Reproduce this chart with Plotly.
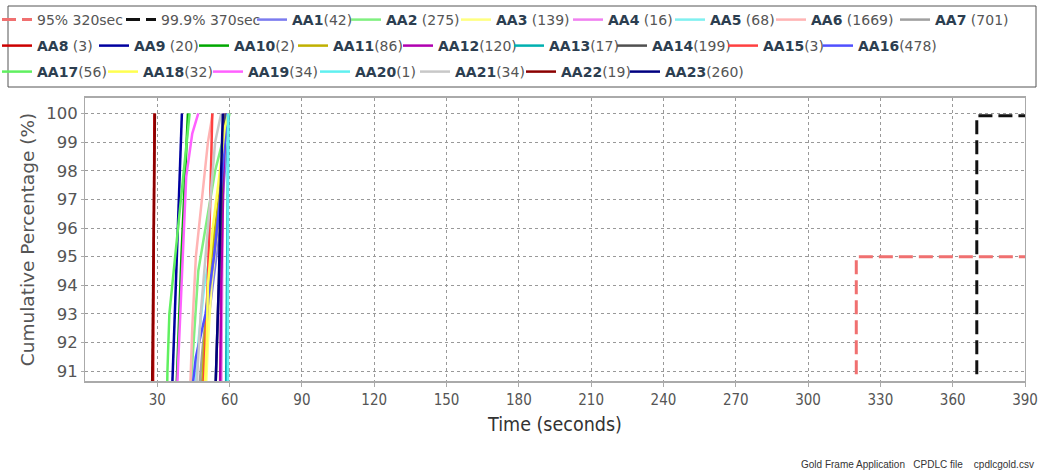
import plotly.graph_objects as go

# ---- data ----
names = ["AA1", "AA2", "AA3", "AA4", "AA5", "AA6", "AA7", "AA8", "AA9", "AA10", "AA11", "AA12",
         "AA13", "AA14", "AA15", "AA16", "AA17", "AA18", "AA19", "AA20", "AA21", "AA22", "AA23"]
counts = [42, 275, 139, 16, 68, 1669, 701, 3, 20, 2, 86, 120, 17, 199, 3, 478, 56, 32, 34, 1, 34, 19, 260]
colors = ["#7b7bef", "#80f080", "#ffff80", "#f080f0", "#80f0f0", "#ffb4b4", "#a0a0a0", "#cc0000",
          "#0000a0", "#00a800", "#c0b000", "#b000b0", "#00b0b0", "#505050", "#ff4040", "#5050ff",
          "#60f060", "#ffff50", "#ff60ff", "#60f0f0", "#c8c8c8", "#8b0000", "#000080"]

# time (s) at cumulative percentages
times = [
    [48, 50, 53, 56, 58.5, 59.5],
    [43.5, 45, 47, 50, 54, 57, 60],
    [50, 51, 52.5, 55, 58, 59.5],
    [56.5, 57, 57.5],
    [45.5, 47, 49.5, 54, 57.5, 59],
    [43.5, 44.5, 46, 48.5, 51, 53],
    [47, 49, 52, 55, 57.5, 58.5],
    [28.2, 28.8],
    [36, 38, 40.2],
    [37.8, 40, 42.7],
    [48.5, 49.5, 51, 54, 57, 59],
    [56, 56.5, 57.5, 58.5],
    [58.5, 59, 59.5],
    [54, 55.5, 57, 58.3],
    [49, 50.5, 52, 52.8],
    [44, 46, 50, 53.5, 56, 58, 59],
    [34, 34.2, 35, 38, 41, 43.4],
    [49.5, 50.5, 51, 53, 56, 58, 59.5],
    [38, 40, 42, 44.5, 47],
    [59.3, 59.3],
    [46, 48, 51, 54, 56.5],
    [27.8, 28.3, 29],
    [54, 55.5, 56.5, 57.2],
]
percents = [
    [90, 92, 94, 96, 98.5, 100],
    [90, 92, 94.5, 96, 98, 99, 100],
    [90, 92, 94, 96, 98.8, 100],
    [90, 95, 100],
    [90, 92, 94, 96, 98, 100],
    [90, 92.5, 95, 97, 99, 100],
    [90, 92, 94, 96, 98, 100],
    [90, 100],
    [90, 95, 100],
    [90, 95, 100],
    [90, 92, 94, 96, 98, 100],
    [90, 94, 98, 100],
    [90, 95, 100],
    [90, 94, 98, 100],
    [90, 93, 97, 100],
    [90, 91.5, 93, 95, 97, 99, 100],
    [90, 91, 93, 95.5, 98, 100],
    [90, 92, 94, 96, 98, 99.5, 100],
    [90, 94, 97.8, 99.3, 100],
    [90, 100],
    [90, 93, 96, 99, 100],
    [90, 95, 100],
    [90, 94, 98, 100],
]

thr95_x = [320, 320, 390]
thr95_y = [90.9, 95, 95]
thr999_x = [370, 370, 390]
thr999_y = [90.9, 99.92, 99.92]

x_ticks = [30, 60, 90, 120, 150, 180, 210, 240, 270, 300, 330, 360, 390]
y_ticks = [91, 92, 93, 94, 95, 96, 97, 98, 99, 100]

# ---- layout constants ----
W, H = 1041, 474
ML, MR, MT, MB = 85, 16, 98, 93
PW, PH = W - ML - MR, H - MT - MB
LBL = "#2c3e50"
GRY = "#555555"

# legend entry text-start pixel (x) and row centre (y)
row_y = [20, 46, 72]
legend_rows = [
    [36, 160, 291, 385, 495, 607, 709, 810, 934],
    [36, 133, 233, 332, 437, 548, 651, 762, 857],
    [36, 142, 247, 354, 454, 560, 664],
]


def px2x(p):
    return (p - ML) / PW


def px2y(p):
    return (H - MB - p) / PH


fig = go.Figure()
labels = [f"<span style='color:{GRY}'>95% 320sec</span>",
          f"<span style='color:{GRY}'>99.9% 370sec</span>"]
for n, c in zip(names, counts):
    sep = " " if n in ("AA2", "AA3", "AA4", "AA5", "AA6", "AA7", "AA8", "AA9") else ""
    labels.append(f"<b>{n}</b><span style='color:{GRY}'>{sep}({c})</span>")

legend_ids = []
for i in range(len(labels)):
    legend_ids.append("legend" if i == 0 else f"legend{i + 1}")

fig.add_trace(go.Scatter(x=thr95_x, y=thr95_y, mode="lines",
                         line=dict(color="#f07070", width=3, dash="14px,6px"),
                         name=labels[0], legend=legend_ids[0]))
fig.add_trace(go.Scatter(x=thr999_x, y=thr999_y, mode="lines",
                         line=dict(color="#111111", width=3, dash="14px,6px"),
                         name=labels[1], legend=legend_ids[1]))
for k, (col, t, p) in enumerate(zip(colors, times, percents)):
    fig.add_trace(go.Scatter(x=t, y=p, mode="lines", line=dict(color=col, width=2.5),
                             name=labels[k + 2], legend=legend_ids[k + 2]))

legend_layout = {}
k = 0
for r, row in enumerate(legend_rows):
    for tx in row:
        legend_layout[legend_ids[k]] = dict(
            orientation="h", x=px2x(tx + 1 - 40), xanchor="left",
            y=px2y(row_y[r]), yanchor="middle", borderwidth=0,
            bgcolor="rgba(0,0,0,0)", font=dict(size=14, color=LBL, family="DejaVu Sans, sans-serif"))
        k += 1

fig.update_layout(
    width=W, height=H,
    margin=dict(l=ML, r=MR, t=MT, b=MB, autoexpand=False),
    paper_bgcolor="white", plot_bgcolor="white",
    font=dict(family="DejaVu Sans, sans-serif", color=LBL, size=14),
    showlegend=True,
    xaxis=dict(range=[0, 390], tickvals=x_ticks, showgrid=True, gridcolor="#999999",
               griddash="dot", gridwidth=1, zeroline=False, showline=True, linecolor="#aaaaaa",
               linewidth=2, mirror=True, ticks="outside", ticklen=4, tickcolor="#aaaaaa",
               tickfont=dict(size=15, color=GRY, family="DejaVu Sans Condensed, sans-serif"),
               title=dict(text="Time (seconds)", font=dict(size=19.5, color="#333333",
                          family="DejaVu Sans Condensed, sans-serif"),
                          standoff=9)),
    yaxis=dict(range=[90.66, 100.54], tickvals=y_ticks, showgrid=True, gridcolor="#999999",
               griddash="dot", gridwidth=1, zeroline=False, showline=True, linecolor="#aaaaaa",
               linewidth=1, mirror=True, ticks="outside", ticklen=3, tickcolor="#aaaaaa",
               tickfont=dict(size=16.5, color=GRY, family="DejaVu Sans, sans-serif"),
               title=dict(text="Cumulative Percentage (%)",
                          font=dict(size=18.5, color=GRY, family="DejaVu Sans, sans-serif"),
                          standoff=6)),
    **legend_layout,
)

# legend frame
fig.add_shape(type="rect", xref="paper", yref="paper",
              x0=px2x(8), x1=px2x(1036), y0=px2y(87), y1=px2y(6),
              line=dict(color="#555555", width=1), fillcolor="rgba(0,0,0,0)", layer="below")

fig.add_annotation(text="Gold Frame Application&nbsp;&nbsp; CPDLC file&nbsp;&nbsp;&nbsp; cpdlcgold.csv",
                   xref="paper", yref="paper", x=px2x(1036), y=px2y(465), xanchor="right",
                   yanchor="middle", showarrow=False,
                   font=dict(size=10, color="#333333", family="Liberation Sans, Arial"))

fig.write_html("out.html", config={"displayModeBar": False},
               post_script="document.body.style.margin='0px';")
